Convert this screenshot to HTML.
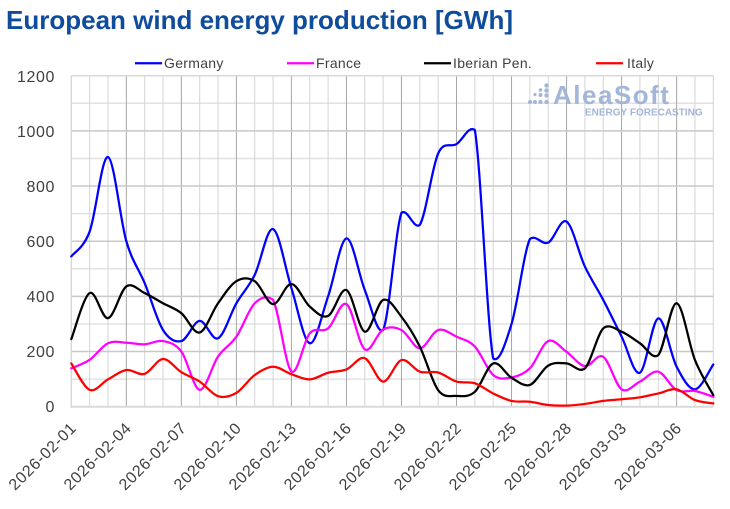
<!DOCTYPE html>
<html>
<head>
<meta charset="utf-8">
<style>
  html,body{margin:0;padding:0;background:#fff;}
  body{width:730px;height:509px;overflow:hidden;}
  svg{display:block;}
  text{font-family:"Liberation Sans",Arial,sans-serif;}
</style>
</head>
<body>
<svg id="c" width="730" height="509" viewBox="0 0 730 509" xmlns="http://www.w3.org/2000/svg">
  <rect x="0" y="0" width="730" height="509" fill="#ffffff"/>
  <text x="6" y="29" font-size="26" font-weight="bold" fill="#0f4c9b">European wind energy production [GWh]</text>

  <!-- legend -->
  <g font-size="14" fill="#404040" letter-spacing="0.3">
    <line x1="135" y1="63.3" x2="162" y2="63.3" stroke="#0000ff" stroke-width="2.25"/>
    <text x="164" y="68">Germany</text>
    <line x1="287" y1="63.3" x2="314" y2="63.3" stroke="#ff00ff" stroke-width="2.25"/>
    <text x="316" y="68">France</text>
    <line x1="424" y1="63.3" x2="451" y2="63.3" stroke="#000000" stroke-width="2.25"/>
    <text x="453" y="68">Iberian Pen.</text>
    <line x1="596" y1="63.3" x2="623" y2="63.3" stroke="#ff0000" stroke-width="2.25"/>
    <text x="627" y="68">Italy</text>
  </g>

  <g id="grid"></g>

  <!-- logo -->
  <g fill="#a2b6d9">
    <circle cx="546.5" cy="85.5" r="2.2"/>
    <circle cx="540.5" cy="90" r="1.8"/>
    <circle cx="546.5" cy="90.5" r="2.2"/>
    <circle cx="535" cy="94.5" r="1.6"/>
    <circle cx="540.5" cy="95" r="2"/>
    <circle cx="546.5" cy="95.5" r="2.2"/>
    <circle cx="530" cy="102" r="2"/>
    <circle cx="535" cy="102" r="2"/>
    <circle cx="540.5" cy="102" r="2.1"/>
    <circle cx="546.5" cy="102" r="2.2"/>
    <text x="553" y="104" font-size="26" font-weight="bold" letter-spacing="1.5">AleaSoft</text>
    <text x="585" y="115.5" font-size="10" font-weight="bold">ENERGY FORECASTING</text>
  </g>

  <g id="series" fill="none" stroke-width="2.25" stroke-linejoin="round" stroke-linecap="round"></g>

  <!-- y labels -->
  <g font-size="16" fill="#404040" text-anchor="end" letter-spacing="0.6">
    <text x="55" y="82">1200</text>
    <text x="55" y="137">1000</text>
    <text x="55" y="192">800</text>
    <text x="55" y="247">600</text>
    <text x="55" y="302">400</text>
    <text x="55" y="357">200</text>
    <text x="55" y="412">0</text>
  </g>

  <g id="xl" font-size="16" fill="#404040" text-anchor="end" letter-spacing="0.6"></g>
</svg>
<script>
(function(){
  var NS="http://www.w3.org/2000/svg";
  var X0=71.3, DX=18.343, Y0=406.7, SY=331/1200;
  function X(i){return X0+i*DX;}
  function Y(v){return Y0-v*SY;}
  var grid=document.getElementById('grid');
  function line(x1,y1,x2,y2,col,w){
    var l=document.createElementNS(NS,'line');
    l.setAttribute('x1',x1);l.setAttribute('y1',y1);l.setAttribute('x2',x2);l.setAttribute('y2',y2);
    l.setAttribute('stroke',col);l.setAttribute('stroke-width',w);
    grid.appendChild(l);
  }
  for(var v=100;v<1200;v+=200){ line(X0,Y(v),X(35),Y(v),'#e2e2e2',1.5); }
  for(var i=1;i<=35;i++){
    if(i%3===0) line(X(i),Y(1200),X(i),Y(0),'#a6a6a6',1);
    else line(X(i),Y(1200),X(i),Y(0),'#d4d4d4',1);
  }
  for(var v=200;v<1200;v+=200){ line(X0,Y(v),X(35),Y(v),'#c8c8c8',1.5); }
  line(X0,Y(1200),X(35),Y(1200),'#d9d9d9',1.5);
  line(X0,Y(1200),X0,Y(0),'#d9d9d9',1.5);
  line(X0-1,Y(0),X(35),Y(0),'#d9d9d9',2);

  var data=[
    ['#0000ff',[545,635,905,600,448,278,238,311,248,375,478,644,430,230,400,610,423,278,703,659,918,952,1003,175,300,608,595,671,508,387,254,123,320,145,63,153]],
    ['#ff00ff',[139,170,230,232,226,238,200,61,182,254,375,387,128,266,284,372,208,280,278,212,278,254,218,115,106,139,238,199,147,181,63,91,127,60,57,36]],
    ['#000000',[245,412,321,436,412,375,339,269,375,455,455,372,445,363,329,423,272,387,326,218,60,39,54,157,105,79,149,157,139,284,272,230,187,375,169,42]],
    ['#ff0000',[157,61,99,133,119,173,125,91,38,50,115,145,118,99,123,135,176,91,169,127,124,91,85,48,21,18,6,4,10,21,27,34,48,63,24,12]]
  ];
  var sg=document.getElementById('series');
  function clamp(v,a,b){return v<a?a:(v>b?b:v);}
  data.forEach(function(s){
    var p=s[1].map(function(v,i){return [X(i),Y(v)];});
    var n=p.length;
    var d='M'+p[0][0].toFixed(2)+','+p[0][1].toFixed(2);
    for(var i=0;i<n-1;i++){
      var p0=p[i>0?i-1:i], p1=p[i], p2=p[i+1], p3=p[i+2<n?i+2:i+1];
      var c1x=p1[0]+(p2[0]-p0[0])/6, c1y=p1[1]+(p2[1]-p0[1])/6;
      var c2x=p2[0]-(p3[0]-p1[0])/6, c2y=p2[1]-(p3[1]-p1[1])/6;
      var lo=Math.min(p1[1],p2[1]), hi=Math.max(p1[1],p2[1]);
      var m=Math.max(5,0.08*(hi-lo));
      c1y=clamp(c1y,lo-m,hi+m); c2y=clamp(c2y,lo-m,hi+m);
      d+='C'+c1x.toFixed(2)+','+c1y.toFixed(2)+' '+c2x.toFixed(2)+','+c2y.toFixed(2)+' '+p2[0].toFixed(2)+','+p2[1].toFixed(2);
    }
    var path=document.createElementNS(NS,'path');
    path.setAttribute('d',d);path.setAttribute('stroke',s[0]);
    sg.appendChild(path);
  });

  var labels=['2026-02-01','2026-02-04','2026-02-07','2026-02-10','2026-02-13','2026-02-16','2026-02-19','2026-02-22','2026-02-25','2026-02-28','2026-03-03','2026-03-06'];
  var xl=document.getElementById('xl');
  labels.forEach(function(t,k){
    var x=X(k*3)+6, y=429;
    var tx=document.createElementNS(NS,'text');
    tx.setAttribute('x',0);tx.setAttribute('y',0);
    tx.setAttribute('transform','translate('+x.toFixed(2)+','+y+') rotate(-45)');
    tx.textContent=t;
    xl.appendChild(tx);
  });
})();
</script>
</body>
</html>
